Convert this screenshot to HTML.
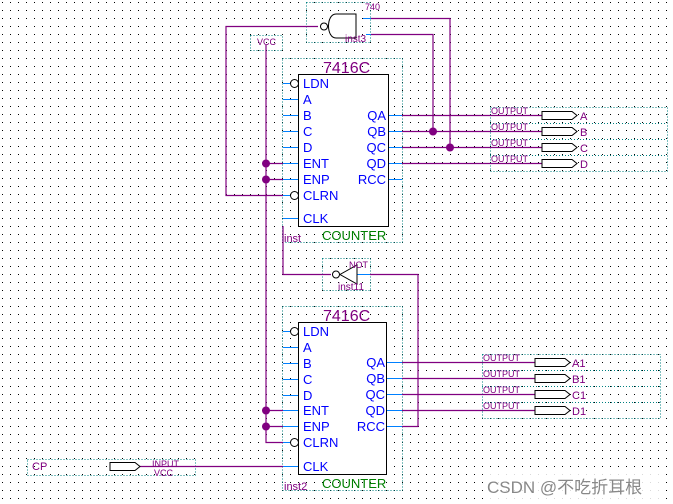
<!DOCTYPE html><html><head><style>body{margin:0;background:#fff}svg{display:block}text{font-family:"Liberation Sans",sans-serif}</style></head><body>
<svg width="673" height="504" viewBox="0 0 673 504" xmlns="http://www.w3.org/2000/svg">
<defs><pattern id="g" width="8" height="8" patternUnits="userSpaceOnUse"><rect x="2" y="2" width="1" height="1" fill="#000"/></pattern></defs>
<rect width="673" height="504" fill="url(#g)"/>
<g fill="none" stroke="#008080" stroke-dasharray="1,2">
<rect x="282.5" y="58.5" width="120" height="184"/>
<rect x="282.5" y="306.5" width="120" height="184"/>
<rect x="306.5" y="2.5" width="64" height="40"/>
<rect x="322.5" y="258.5" width="48" height="32"/>
<rect x="250.5" y="35.5" width="32" height="15"/>
<rect x="490.5" y="107.5" width="177" height="64"/>
<line x1="490" y1="123.5" x2="667" y2="123.5"/><line x1="490" y1="139.5" x2="667" y2="139.5"/><line x1="490" y1="155.5" x2="667" y2="155.5"/>
<rect x="482.5" y="354.5" width="178" height="64"/>
<line x1="482" y1="370.5" x2="660" y2="370.5"/><line x1="482" y1="386.5" x2="660" y2="386.5"/><line x1="482" y1="402.5" x2="660" y2="402.5"/>
<rect x="27.5" y="459.5" width="168" height="16"/>
</g>
<g stroke="#0080ff" stroke-width="1">
<path d="M283 83.5h10M283 99.5h15M283 115.5h15M283 131.5h15M283 147.5h15M283 163.5h15M283 179.5h15M283 195.5h10M283 218.5h15M388 115.5h14M388 131.5h14M388 147.5h14M388 163.5h14M388 179.5h14"/>
<path d="M283 331.5h10M283 347.5h15M283 363.5h15M283 379.5h15M283 395.5h15M283 410.5h15M283 426.5h15M283 442.5h10M283 466.5h15M386 362.5h16M386 378.5h16M386 394.5h16M386 410.5h16M386 426.5h16"/>
<path d="M357 274.5h13M363 18.5h8M366 34.5h5"/>
</g>
<g fill="none" stroke="#800080" stroke-width="1.2">
<path d="M402 115.5H542M402 131.5H542M402 147.5H542M402 163.5H542"/>
<path d="M402 362.5H535M402 378.5H535M402 394.5H535M402 410.5H535"/>
<path d="M371 18.5H450V147.5M371 34.5H433V131.5"/>
<path d="M318 26.5H226V195.5H283"/>
<path d="M266 45V442.5H283M266 163.5H283M266 179.5H283M266 410.5H283M266 426.5H283"/>
<path d="M283 226V274.5H331"/>
<path d="M370 274.5H418V426.5H402"/>
<path d="M140 466.5H283"/>
</g>
<g fill="#800080"><circle cx="266" cy="163.5" r="4"/><circle cx="266" cy="179.5" r="4"/><circle cx="266" cy="410.5" r="4"/><circle cx="266" cy="426.5" r="4"/><circle cx="433" cy="131.5" r="4"/><circle cx="450" cy="147.5" r="4"/></g>
<g fill="#fff" stroke="#000">
<rect x="298.5" y="74.5" width="90" height="152"/>
<rect x="298.5" y="322.5" width="88" height="152"/>
<circle cx="294.5" cy="83.5" r="4"/><circle cx="294.5" cy="195.5" r="4"/><circle cx="294.5" cy="331.5" r="4"/><circle cx="294.5" cy="442.5" r="4"/>
<path d="M356 14V38H336C326 38 326 14 336 14Z"/><circle cx="324" cy="26.5" r="3.5"/>
<path d="M357 265V284L340 274.5Z"/><circle cx="336" cy="274.5" r="3.5"/>
<path d="M542 111.5h30l5 4-5 4h-30zM542 127.5h30l5 4-5 4h-30zM542 143.5h30l5 4-5 4h-30zM542 159.5h30l5 4-5 4h-30z"/>
<path d="M535 358.5h30l5 4-5 4h-30zM535 374.5h30l5 4-5 4h-30zM535 390.5h30l5 4-5 4h-30zM535 406.5h30l5 4-5 4h-30z"/>
<path d="M110 462.5h25l5 4-5 4h-25z"/>
</g>
<g fill="#0000ff" font-size="13">
<text x="303" y="88">LDN</text><text x="303" y="104">A</text><text x="303" y="120">B</text><text x="303" y="136">C</text><text x="303" y="152">D</text><text x="303" y="168">ENT</text><text x="303" y="184">ENP</text><text x="303" y="200">CLRN</text><text x="303" y="223">CLK</text>
<text x="386" y="120" text-anchor="end">QA</text><text x="386" y="136" text-anchor="end">QB</text><text x="386" y="152" text-anchor="end">QC</text><text x="386" y="168" text-anchor="end">QD</text><text x="386" y="184" text-anchor="end">RCC</text>
<text x="303" y="336">LDN</text><text x="303" y="352">A</text><text x="303" y="368">B</text><text x="303" y="384">C</text><text x="303" y="400">D</text><text x="303" y="415">ENT</text><text x="303" y="431">ENP</text><text x="303" y="447">CLRN</text><text x="303" y="471">CLK</text>
<text x="385" y="367" text-anchor="end">QA</text><text x="385" y="383" text-anchor="end">QB</text><text x="385" y="399" text-anchor="end">QC</text><text x="385" y="415" text-anchor="end">QD</text><text x="385" y="431" text-anchor="end">RCC</text>
</g>
<g fill="#800080">
<text x="323" y="73" font-size="16">7416C</text><text x="323" y="321" font-size="16">7416C</text>
<text x="284" y="242" font-size="11">inst</text><text x="284" y="490" font-size="11">inst2</text>
<text x="345" y="42" font-size="10">inst3</text><text x="338" y="290" font-size="10">inst11</text>
<text x="365" y="10" font-size="9">740</text><text x="349" y="268" font-size="9">NOT</text>
<text x="257" y="45" font-size="9">VCC</text>
<text x="491" y="114" font-size="9">OUTPUT</text><text x="491" y="130" font-size="9">OUTPUT</text><text x="491" y="146" font-size="9">OUTPUT</text><text x="491" y="162" font-size="9">OUTPUT</text>
<text x="483" y="361" font-size="9">OUTPUT</text><text x="483" y="377" font-size="9">OUTPUT</text><text x="483" y="393" font-size="9">OUTPUT</text><text x="483" y="409" font-size="9">OUTPUT</text>
<text x="580" y="120" font-size="11">A</text><text x="580" y="136" font-size="11">B</text><text x="580" y="152" font-size="11">C</text><text x="580" y="168" font-size="11">D</text>
<text x="572" y="367" font-size="11">A1</text><text x="572" y="383" font-size="11">B1</text><text x="572" y="399" font-size="11">C1</text><text x="572" y="415" font-size="11">D1</text>
<text x="32" y="470" font-size="11">CP</text><text x="152" y="467" font-size="9">INPUT</text><text x="154" y="476" font-size="9">VCC</text>
</g>
<g fill="#008000" font-size="13"><text x="322" y="240">COUNTER</text><text x="322" y="488">COUNTER</text></g>
<rect x="484" y="474" width="180" height="26" fill="#fff" opacity="0.85"/>
<text x="487" y="493" font-size="17" fill="#888" font-family="Liberation Sans,Noto Sans CJK SC,sans-serif">CSDN @不吃折耳根</text>
</svg></body></html>
